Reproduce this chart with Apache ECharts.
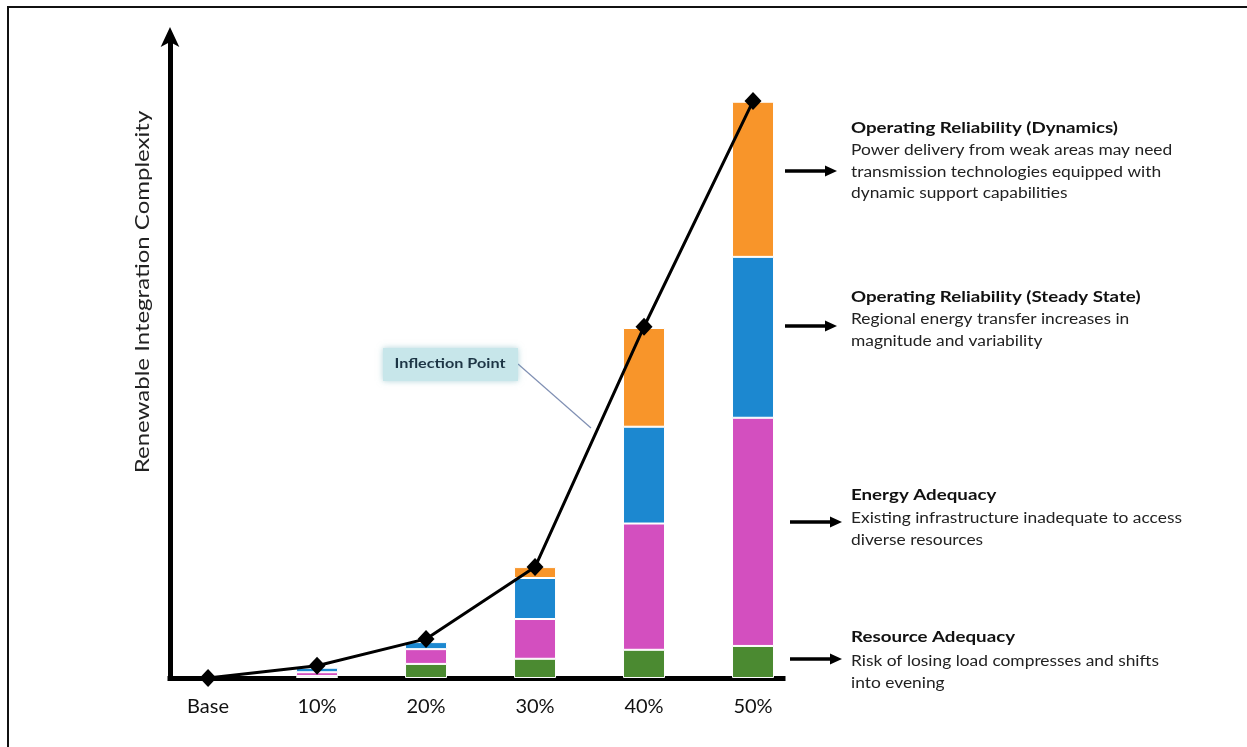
<!DOCTYPE html>
<html>
<head>
<meta charset="utf-8">
<script src="https://cdn.jsdelivr.net/npm/echarts@6/dist/echarts.min.js"></script>
<style>
  html, body { margin: 0; padding: 0; background: #fff; }
  #chart { width: 1247px; height: 747px; }
</style>
</head>
<body>
<div id="chart"></div>
<script>
// Renewable penetration steps along the x axis
const categories = ['Base', '10%', '20%', '30%', '40%', '50%'];

// Stacked complexity contributions (bottom to top)
const resourceAdequacy = [0, 0.3, 2.2, 3.0, 4.4, 5.0];
const energyAdequacy   = [0, 0.6, 2.3, 6.2, 19.7, 35.6];
const steadyState      = [0, 0.7, 1.1, 6.4, 15.1, 25.1];
const dynamics         = [0, 0, 0, 1.7, 15.4, 24.2];

// Overall complexity curve
const complexity = [0, 1.9, 6.1, 17.3, 54.8, 90.0];

// Side notes, top to bottom
const noteTitles = [
  'Operating Reliability (Dynamics)',
  'Operating Reliability (Steady State)',
  'Energy Adequacy',
  'Resource Adequacy'
];
const noteBodies = [
  ['Power delivery from weak areas may need', 'transmission technologies equipped with', 'dynamic support capabilities'],
  ['Regional energy transfer increases in', 'magnitude and variability'],
  ['Existing infrastructure inadequate to access', 'diverse resources'],
  ['Risk of losing load compresses and shifts', 'into evening']
];

const colors = {
  resource: '#4B8A31',
  energy: '#D34FBF',
  steady: '#1C88D0',
  dynamics: '#F8952A'
};

const chart = echarts.init(document.getElementById('chart'), null, { renderer: 'canvas' });

// rows are [value, position index]; value comes first so it is the stacked dimension.
// Empty segments get no white outline so nothing is painted over the axis.
function barSeries(name, values, color) {
  return {
    name: name,
    type: 'bar',
    stack: 'complexity',
    barWidth: 42,
    encode: { x: 1, y: 0 },
    data: values.map((v, i) => ({
      value: [v, i],
      itemStyle: { borderWidth: v > 0 ? 1 : 0 }
    })),
    itemStyle: { color: color, borderColor: '#ffffff' },
    emphasis: { disabled: true },
    z: 2
  };
}

// Note layout: title line, body lines, arrow row
const noteLayout = [
  { titleY: 128, bodyY: 150, arrowY: 171, arrowX: 785 },
  { titleY: 297, bodyY: 319, arrowY: 326, arrowX: 785 },
  { titleY: 495, bodyY: 518, arrowY: 522, arrowX: 790 },
  { titleY: 637, bodyY: 661, arrowY: 659, arrowX: 790 }
];

const graphics = [];

// outer frame
graphics.push({
  type: 'rect', silent: true, z: 0,
  shape: { x: 8, y: 7, width: 1270, height: 770 },
  style: { fill: 'none', stroke: '#111', lineWidth: 2 }
});

// rotated y-axis title
graphics.push({
  type: 'text', silent: true,
  x: 143, y: 292, rotation: Math.PI / 2, scaleX: 1.2,
  style: {
    text: 'Renewable Integration Complexity',
    font: '20px Lato', fill: '#222',
    align: 'center', verticalAlign: 'middle'
  }
});

noteTitles.forEach((t, k) => {
  const L = noteLayout[k];
  graphics.push({
    type: 'text', silent: true,
    x: 851, y: L.titleY, scaleX: 1.17,
    style: { text: t, font: 'bold 16px Lato', fill: '#111', verticalAlign: 'middle' }
  });
  noteBodies[k].forEach((line, j) => {
    graphics.push({
      type: 'text', silent: true,
      x: 851, y: L.bodyY + j * 21.5, scaleX: 1.12,
      style: { text: line, font: '15.5px Lato', fill: '#222', verticalAlign: 'middle' }
    });
  });
  graphics.push({
    type: 'line', silent: true,
    shape: { x1: L.arrowX, y1: L.arrowY, x2: L.arrowX + 42, y2: L.arrowY },
    style: { stroke: '#000', lineWidth: 3.5 }
  });
  graphics.push({
    type: 'polygon', silent: true,
    shape: { points: [[L.arrowX + 40, L.arrowY - 5.5], [L.arrowX + 52, L.arrowY], [L.arrowX + 40, L.arrowY + 5.5]] },
    style: { fill: '#000' }
  });
});

// "Inflection Point" callout box and leader
graphics.push({
  type: 'line', silent: true,
  shape: { x1: 518, y1: 364, x2: 591, y2: 428 },
  style: { stroke: '#7F8FB3', lineWidth: 1.2 }
});
graphics.push({
  type: 'rect', silent: true,
  shape: { x: 383, y: 348, width: 135, height: 33 },
  style: {
    fill: '#C7E6EA',
    shadowBlur: 6, shadowColor: 'rgba(110,175,185,0.55)'
  }
});
graphics.push({
  type: 'text', silent: true,
  x: 450, y: 364, scaleX: 1.2,
  style: {
    text: 'Inflection Point', font: 'bold 13.5px Lato', fill: '#1D3545',
    align: 'center', verticalAlign: 'middle'
  }
});

const option = {
  backgroundColor: '#ffffff',
  animation: false,
  grid: { left: 170, right: 464, top: 37, bottom: 69 },
  xAxis: {
    type: 'value',
    min: -0.349,
    max: 5.275,
    axisLine: { show: true, onZero: false, lineStyle: { color: '#000', width: 5, cap: 'square' } },
    axisTick: { show: false },
    splitLine: { show: false },
    axisLabel: {
      customValues: [0, 1, 2, 3, 4, 5],
      formatter: v => categories[Math.round(v)],
      fontFamily: 'Lato', fontSize: 20, color: '#111', margin: 19
    }
  },
  yAxis: {
    type: 'value',
    min: 0,
    max: 100,
    axisLine: {
      show: true,
      onZero: false,
      symbol: ['none', 'arrow'],
      symbolSize: [14, 20],
      symbolOffset: [0, 10],
      lineStyle: { color: '#000', width: 5, cap: 'square' }
    },
    axisTick: { show: false },
    axisLabel: { show: false },
    splitLine: { show: false }
  },
  series: [
    barSeries('Resource Adequacy', resourceAdequacy, colors.resource),
    barSeries('Energy Adequacy', energyAdequacy, colors.energy),
    barSeries('Operating Reliability (Steady State)', steadyState, colors.steady),
    barSeries('Operating Reliability (Dynamics)', dynamics, colors.dynamics),
    {
      name: 'Complexity',
      type: 'line',
      encode: { x: 1, y: 0 },
      data: complexity.map((v, i) => [v, i]),
      symbol: 'diamond',
      symbolSize: [17, 18],
      lineStyle: { color: '#000', width: 3 },
      itemStyle: { color: '#000' },
      emphasis: { disabled: true },
      z: 5
    }
  ],
  graphic: graphics
};

chart.setOption(option);
</script>
</body>
</html>
